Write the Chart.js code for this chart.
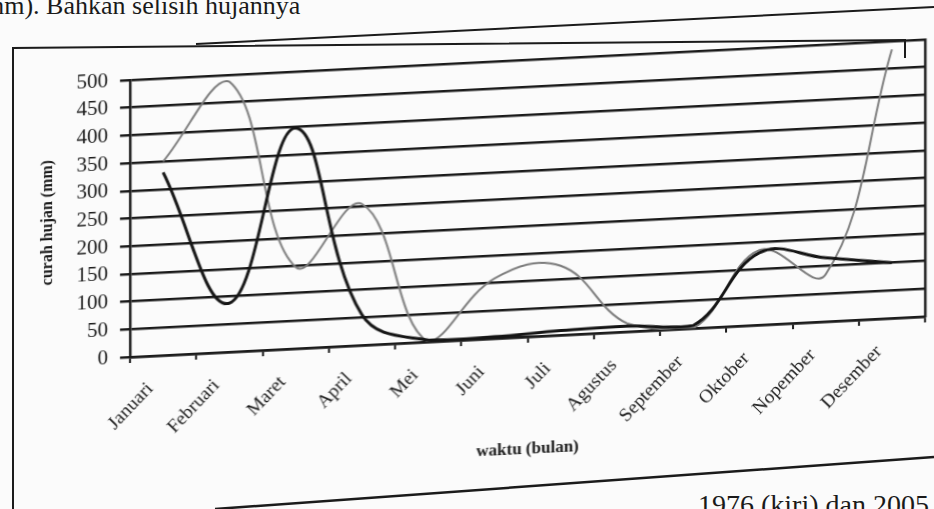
<!DOCTYPE html>
<html>
<head>
<meta charset="utf-8">
<title>Curah hujan</title>
<script src="https://cdn.jsdelivr.net/npm/chart.js"></script>
<style>
  body { margin: 0; width: 934px; height: 509px; overflow: hidden; background: #fbfbfb; position: relative; font-family: 'Liberation Serif', serif; }
  #wrap { position: absolute; left: 0; top: 0; width: 934px; height: 509px; transform: skewY(-2.92deg); transform-origin: 130px 0; }
  #deco { position: absolute; left: 0; top: 0; }
  .txt { position: absolute; white-space: nowrap; color: #1a1a1a; }
</style>
<script>
    // months on the x axis
    const months = ['Januari', 'Februari', 'Maret', 'April', 'Mei', 'Juni', 'Juli',
                    'Agustus', 'September', 'Oktober', 'Nopember', 'Desember'];
    // rainfall (mm)
    const darkLine = [330, 88, 398, 55, 3, 3, 8, 10, 5, 130, 115, 100];
    const grayLine = [350, 488, 147, 255, 0, 108, 125, 15, 0, 135, 85, 485];
    const yMin = 0;
    const yMax = 500;
    const yStep = 50;

    const ink = '#1b1b1b';

    document.addEventListener('DOMContentLoaded', function() {
        const ctx = document.getElementById('chart').getContext('2d');
        new Chart(ctx, {
            type: 'line',
            data: {
                labels: months,
                datasets: [{
                    data: darkLine,
                    borderColor: '#151515',
                    borderWidth: 3,
                    pointRadius: 0,
                    tension: 0.4,
                    fill: false
                }, {
                    data: grayLine,
                    borderColor: '#7c7c7c',
                    borderWidth: 2,
                    pointRadius: 0,
                    tension: 0.4,
                    fill: false
                }]
            },
            options: {
                responsive: false,
                animation: false,
                layout: { padding: { left: 34, top: 80, right: 0, bottom: 27 } },
                plugins: { legend: { display: false }, tooltip: { enabled: false } },
                scales: {
                    x: {
                        offset: true,
                        grid: { drawOnChartArea: false, offset: true, tickLength: 6, color: ink, lineWidth: 2 },
                        border: { color: ink, width: 2.5 },
                        ticks: {
                            autoSkip: false, minRotation: 45, maxRotation: 45,
                            padding: 16, labelOffset: -13, color: ink,
                            font: { family: 'Liberation Serif', size: 19 }
                        },
                        title: {
                            display: true, text: 'waktu (bulan)', color: ink,
                            font: { family: 'Liberation Serif', size: 17, weight: 'bold' },
                            padding: { top: 4, bottom: 2 }
                        },
                        afterFit: function(s) { s.height = 125; }
                    },
                    y: {
                        min: yMin, max: yMax,
                        grid: { color: ink, lineWidth: 2.5, tickLength: 10 },
                        border: { color: ink, width: 2.5 },
                        ticks: {
                            stepSize: yStep, autoSkip: false, padding: 12, color: ink,
                            font: { family: 'Liberation Serif', size: 21 }
                        },
                        title: {
                            display: true, text: 'curah hujan (mm)', color: ink,
                            font: { family: 'Liberation Serif', size: 16, weight: 'bold' },
                            padding: { top: 4, bottom: 4 }
                        },
                        afterFit: function(s) { s.width = 96; }
                    },
                    y2: {
                        position: 'right',
                        grid: { drawOnChartArea: false, drawTicks: false },
                        border: { color: ink, width: 2.5 },
                        ticks: { display: false },
                        afterFit: function(s) { s.width = 9; }
                    }
                }
            }
        });
    });
</script>
</head>
<body>
    <div class="txt" style="left:-16px; top:-9px; font-size:26px;">mm). Bahkan selisih hujannya</div>
    <div class="txt" style="left:698px; top:489px; font-size:28px;">1976 (kiri) dan 2005</div>
    <svg id="deco" width="934" height="509">
        <polyline points="196,44 934,7" fill="none" stroke="#1b1b1b" stroke-width="2"/>
        <polyline points="13,509 13,48 905,40 905,58" fill="none" stroke="#1b1b1b" stroke-width="2"/>
        <polyline points="215,509 934,457" fill="none" stroke="#1b1b1b" stroke-width="2.5"/>
    </svg>
    <div id="wrap"><canvas id="chart" width="934" height="509"></canvas></div>
</body>
</html>
